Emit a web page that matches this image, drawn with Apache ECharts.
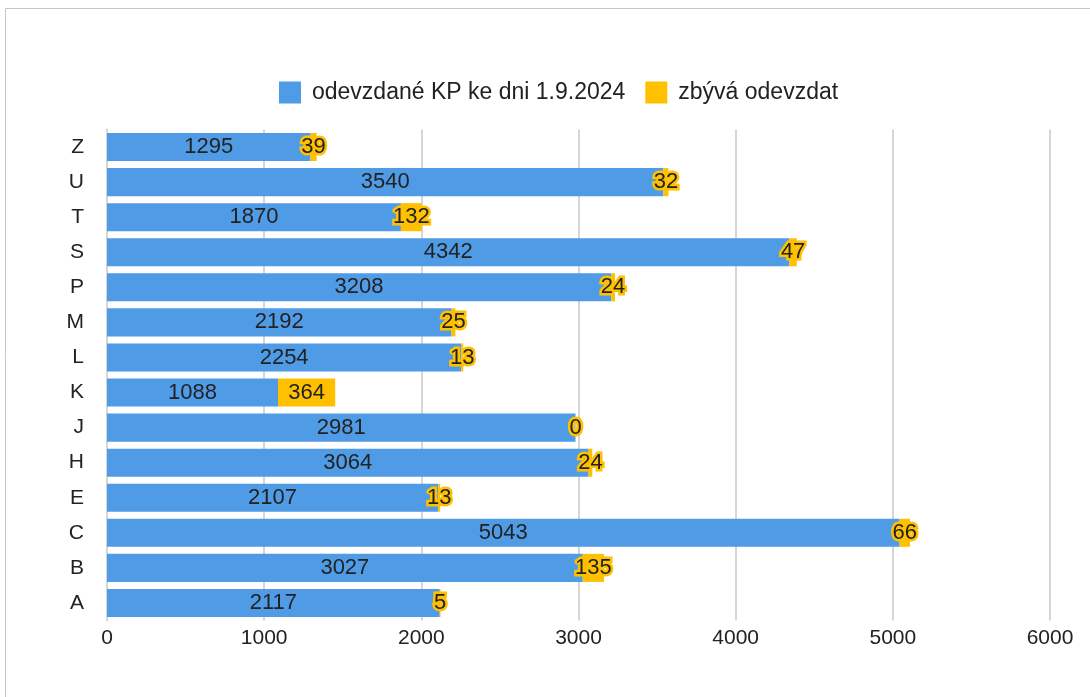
<!DOCTYPE html>
<html><head><meta charset="utf-8">
<script src="https://cdn.jsdelivr.net/npm/echarts@6/dist/echarts.min.js"></script>
<style>html,body{margin:0;padding:0;background:#fff}#c{width:1090px;height:697px}</style>
</head><body><div id="c"></div>
<script>
const categories = ['A','B','C','E','H','J','K','L','M','P','S','T','U','Z'];
const delivered = [2117,3027,5043,2107,3064,2981,1088,2254,2192,3208,4342,1870,3540,1295];
const remaining = [5,135,66,13,24,0,364,13,25,24,47,132,32,39];
const xTicks = {min:0, max:6000, interval:1000};
const seriesNames = ['odevzdané KP ke dni 1.9.2024','zbývá odevzdat'];

const FONT = '"Liberation Sans", Arial, sans-serif';
const chart = echarts.init(document.getElementById('c'));
chart.setOption({
  animation:false,
  graphic:[{type:'rect', shape:{x:5.5,y:8.5,width:1200,height:800}, style:{fill:'none',stroke:'#c6c6c6',lineWidth:1}, silent:true}],
  legend:{
    left:274, top:76, itemWidth:22, itemHeight:22, itemGap:20, icon:'rect',
    textStyle:{fontFamily:FONT, fontSize:23, color:'#222', padding:[0,0,0,6]},
    data:seriesNames
  },
  grid:{left:107, right:40, top:129.5, bottom:76.5},
  xAxis:{
    type:'value', min:xTicks.min, max:xTicks.max, interval:xTicks.interval,
    axisLine:{show:false}, axisTick:{show:false},
    splitLine:{lineStyle:{color:'#d6d6d6', width:2}},
    axisLabel:{fontFamily:FONT, fontSize:21, color:'#222', margin:7, formatter:v=>String(v)}
  },
  yAxis:{
    type:'category', data:categories,
    axisLine:{show:true, lineStyle:{color:'#d6d6d6', width:2}}, axisTick:{show:false},
    axisLabel:{fontFamily:FONT, fontSize:21, color:'#222', margin:23}
  },
  series:[
    {name:seriesNames[0], type:'bar', stack:'t', data:delivered, barCategoryGap:'20%',
     itemStyle:{color:'#4f9be6'},
     label:{show:true, position:'inside', fontFamily:FONT, fontSize:22, color:'#222'}},
    {name:seriesNames[1], type:'bar', stack:'t', data:remaining,
     itemStyle:{color:'#ffc000'},
     label:{show:true, position:'inside', fontFamily:FONT, fontSize:22, color:'#222',
            textBorderColor:'#ffc000', textBorderWidth:5}}
  ]
});
</script></body></html>
